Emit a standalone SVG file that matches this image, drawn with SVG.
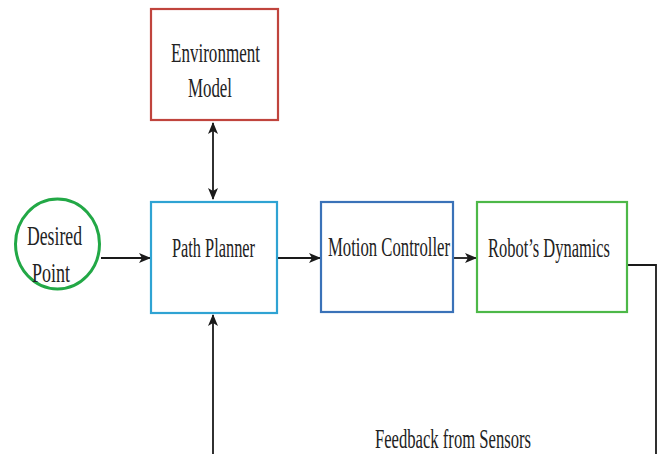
<svg xmlns="http://www.w3.org/2000/svg" width="659" height="454" viewBox="0 0 659 454">
  <defs>
    <marker id="arrow" viewBox="0 0 12 10" refX="11" refY="5" markerWidth="12" markerHeight="10" markerUnits="userSpaceOnUse" orient="auto-start-reverse">
      <path d="M0,0 L12,5 L0,10 L3,5 Z" fill="#1a1a1a"/>
    </marker>
    <style>
      .box { fill: #ffffff; stroke-width: 2.2; }
      .lbl { font-family: "Liberation Serif", "Times New Roman", serif; font-size: 27px; fill: #222222; }
      .wire { fill: none; stroke: #1a1a1a; stroke-width: 1.8; }
    </style>
  </defs>
  <rect width="659" height="454" fill="#ffffff"/>

  <g id="connectors">
    <line class="wire" x1="213" y1="123" x2="213" y2="199" marker-start="url(#arrow)" marker-end="url(#arrow)"/>
    <line class="wire" x1="101" y1="258" x2="150" y2="258" marker-end="url(#arrow)"/>
    <line class="wire" x1="278" y1="258" x2="320" y2="258" marker-end="url(#arrow)"/>
    <line class="wire" x1="454" y1="258" x2="476" y2="258" marker-end="url(#arrow)"/>
    <polyline class="wire" points="628,265 656,265 656,454"/>
    <line class="wire" x1="213" y1="454" x2="213" y2="315" marker-end="url(#arrow)"/>
  </g>

  <!-- labels use a narrow serif: the face is squeezed horizontally to 62% -->
  <g id="environment-model">
    <rect class="box" x="151" y="9" width="127" height="111" stroke="#c0443d"/>
    <text class="lbl" transform="translate(171,62) scale(0.62,1)" textLength="143.5" lengthAdjust="spacingAndGlyphs">Environment</text>
    <text class="lbl" transform="translate(188,97) scale(0.62,1)" textLength="71" lengthAdjust="spacingAndGlyphs">Model</text>
  </g>

  <g id="desired-point">
    <ellipse cx="57.5" cy="244" rx="42" ry="45" fill="#ffffff" stroke="#22a846" stroke-width="3"/>
    <text class="lbl" transform="translate(27,245) scale(0.62,1)" textLength="88.7" lengthAdjust="spacingAndGlyphs">Desired</text>
    <text class="lbl" transform="translate(32,282) scale(0.62,1)" textLength="61.3" lengthAdjust="spacingAndGlyphs">Point</text>
  </g>

  <g id="path-planner">
    <rect class="box" x="151" y="202" width="126" height="111" stroke="#2fa3d3"/>
    <text class="lbl" transform="translate(172,257) scale(0.62,1)" textLength="133.9" lengthAdjust="spacingAndGlyphs">Path Planner</text>
  </g>

  <g id="motion-controller">
    <rect class="box" x="321" y="202" width="132" height="110" stroke="#3a72b8"/>
    <text class="lbl" transform="translate(328,256) scale(0.62,1)" textLength="196.8" lengthAdjust="spacingAndGlyphs">Motion Controller</text>
  </g>

  <g id="robots-dynamics">
    <rect class="box" x="477" y="202" width="150" height="110" stroke="#4db848"/>
    <text class="lbl" transform="translate(488,257) scale(0.62,1)" textLength="196.8" lengthAdjust="spacingAndGlyphs">Robot’s Dynamics</text>
  </g>

  <text class="lbl" transform="translate(375,448) scale(0.62,1)" textLength="251.6" lengthAdjust="spacingAndGlyphs">Feedback from Sensors</text>
</svg>
